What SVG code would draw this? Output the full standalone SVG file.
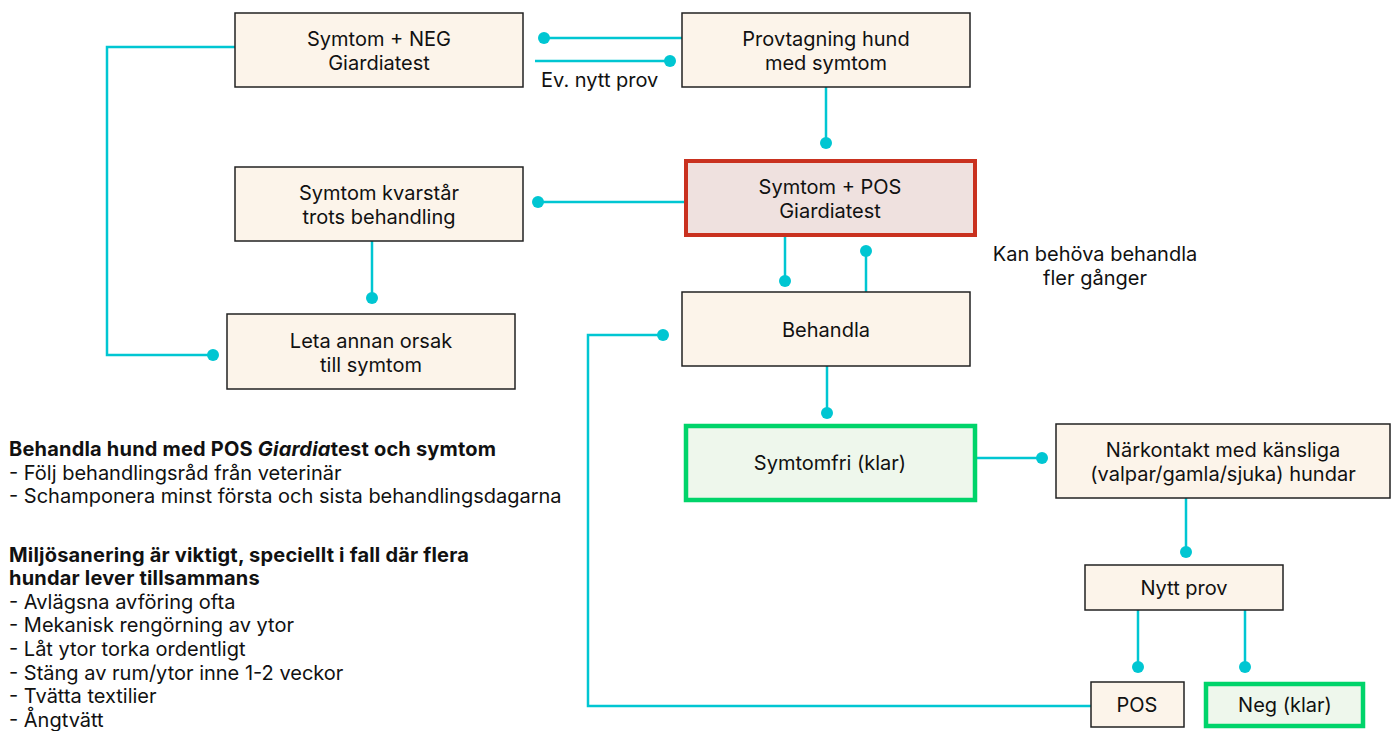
<svg xmlns="http://www.w3.org/2000/svg" width="1392" height="731" viewBox="0 0 1392 731">
<style>
.n{fill:#fcf4ea;stroke:#222;stroke-width:1.5}
.pos{fill:#efe1df;stroke:#c9311f;stroke-width:4}
.ok{fill:#eef7ec;stroke:#00d46a;stroke-width:4.5}
.t{font-family:Inter,"Liberation Sans",sans-serif;font-size:20px;fill:#111;text-anchor:middle}
.l{font-family:Inter,"Liberation Sans",sans-serif;font-size:20px;fill:#111}
.b{font-weight:bold;letter-spacing:0.2px}
.c{fill:none;stroke:#00c6d2;stroke-width:2.5}
.d{fill:#00c6d2}
</style>
<rect width="1392" height="731" fill="#fff"/>
<g id="connectors">
<path class="c" d="M235 47H107V355H213"/>
<path class="c" d="M544 38H682"/>
<path class="c" d="M535 61H670"/>
<path class="c" d="M826 87V143"/>
<path class="c" d="M686 202H538"/>
<path class="c" d="M372 241V298"/>
<path class="c" d="M785 237V281"/>
<path class="c" d="M866 292V251"/>
<path class="c" d="M663 335H588V706H1091"/>
<path class="c" d="M827 366V413"/>
<path class="c" d="M977 458H1042"/>
<path class="c" d="M1186 498V552"/>
<path class="c" d="M1138 610V667"/>
<path class="c" d="M1245 610V667"/>
<circle class="d" cx="213" cy="355" r="6"/>
<circle class="d" cx="544" cy="38" r="6"/>
<circle class="d" cx="670" cy="61" r="6"/>
<circle class="d" cx="826" cy="143" r="6"/>
<circle class="d" cx="538" cy="202" r="6"/>
<circle class="d" cx="372" cy="298" r="6"/>
<circle class="d" cx="785" cy="281" r="6"/>
<circle class="d" cx="866" cy="251" r="6"/>
<circle class="d" cx="663" cy="335" r="6"/>
<circle class="d" cx="827" cy="413" r="6"/>
<circle class="d" cx="1042" cy="458" r="6"/>
<circle class="d" cx="1186" cy="552" r="6"/>
<circle class="d" cx="1138" cy="667" r="6"/>
<circle class="d" cx="1245" cy="667" r="6"/>
<text class="l" x="541" y="87">Ev. nytt prov</text>
<text class="t" x="1095" y="261">Kan behöva behandla</text>
<text class="t" x="1095" y="285">fler gånger</text>
</g>
<g id="neg"><rect class="n" x="235" y="13" width="288" height="74"/><text class="t" x="379" y="46">Symtom + NEG</text><text class="t" x="379" y="70">Giardiatest</text></g>
<g id="provtagning"><rect class="n" x="682" y="13" width="288" height="74"/><text class="t" x="826" y="46">Provtagning hund</text><text class="t" x="826" y="70">med symtom</text></g>
<g id="pos"><rect class="pos" x="686" y="161" width="289" height="74"/><text class="t" x="830" y="194">Symtom + POS</text><text class="t" x="830" y="218">Giardiatest</text></g>
<g id="kvarstar"><rect class="n" x="235" y="167" width="288" height="74"/><text class="t" x="379" y="200">Symtom kvarstår</text><text class="t" x="379" y="224">trots behandling</text></g>
<g id="leta"><rect class="n" x="227" y="314" width="288" height="75"/><text class="t" x="371" y="348">Leta annan orsak</text><text class="t" x="371" y="372">till symtom</text></g>
<g id="behandla"><rect class="n" x="682" y="292" width="288" height="74"/><text class="t" x="826" y="337">Behandla</text></g>
<g id="symtomfri"><rect class="ok" x="686" y="426" width="289" height="74"/><text class="t" x="830" y="470">Symtomfri (klar)</text></g>
<g id="narkontakt"><rect class="n" x="1056" y="424" width="334" height="74"/><text class="t" x="1223" y="457">Närkontakt med känsliga</text><text class="t" x="1223" y="481">(valpar/gamla/sjuka) hundar</text></g>
<g id="nyttprov"><rect class="n" x="1085" y="565" width="198" height="45"/><text class="t" x="1184" y="595">Nytt prov</text></g>
<g id="posres"><rect class="n" x="1091" y="682" width="93" height="45"/><text class="t" x="1137" y="712">POS</text></g>
<g id="negres"><rect class="ok" x="1206" y="684" width="157" height="42"/><text class="t" x="1285" y="712">Neg (klar)</text></g>
<g id="notes">
<text class="l b" x="9" y="456">Behandla hund med POS <tspan font-style="italic">Giardia</tspan>test och symtom</text>
<text class="l" x="9" y="480">- Följ behandlingsråd från veterinär</text>
<text class="l" x="9" y="503">- Schamponera minst första och sista behandlingsdagarna</text>
<text class="l b" x="9" y="562">Miljösanering är viktigt, speciellt i fall där flera</text>
<text class="l b" x="9" y="585">hundar lever tillsammans</text>
<text class="l" x="9" y="609">- Avlägsna avföring ofta</text>
<text class="l" x="9" y="632">- Mekanisk rengörning av ytor</text>
<text class="l" x="9" y="656">- Låt ytor torka ordentligt</text>
<text class="l" x="9" y="680">- Stäng av rum/ytor inne 1-2 veckor</text>
<text class="l" x="9" y="703">- Tvätta textilier</text>
<text class="l" x="9" y="727">- Ångtvätt</text>
</g>
</svg>
